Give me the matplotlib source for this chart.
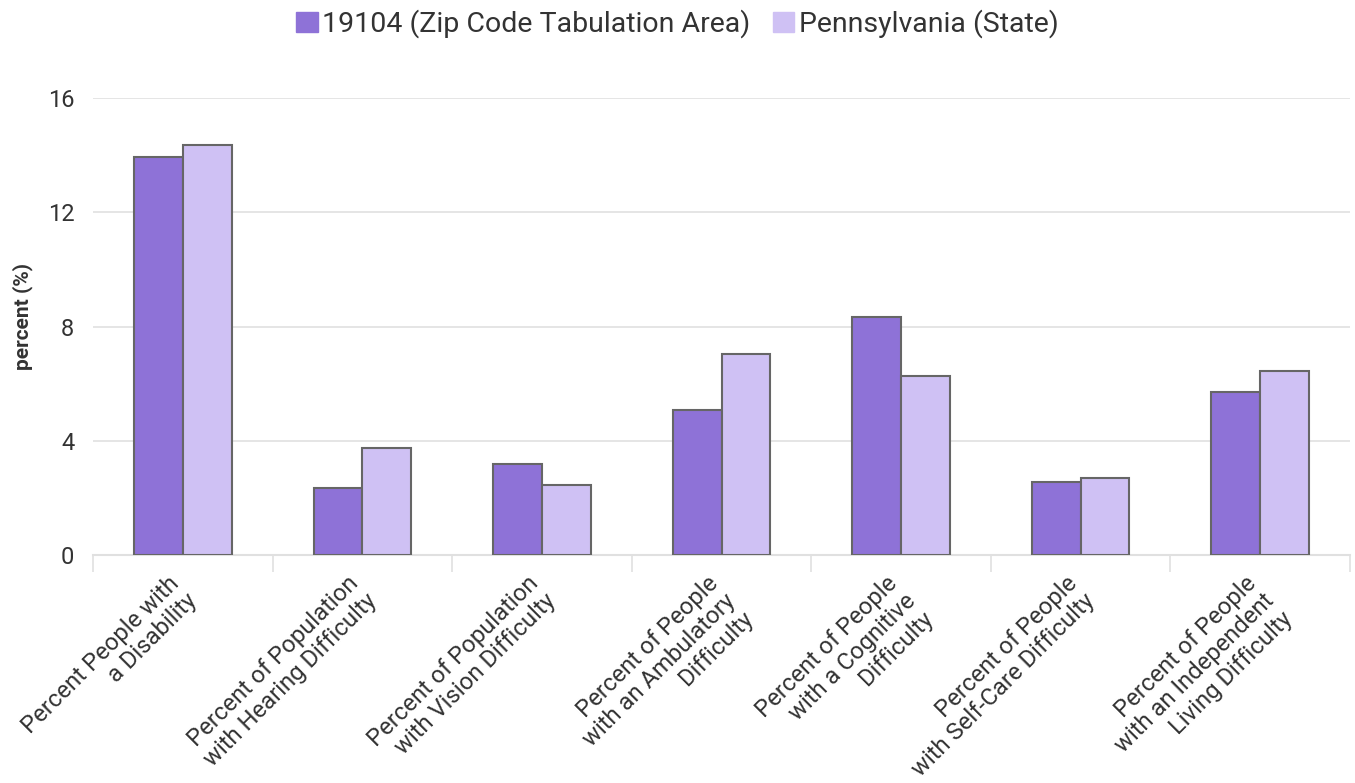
import matplotlib
matplotlib.use("Agg")
import matplotlib.pyplot as plt
from matplotlib.patches import Patch
import numpy as np

plt.rcParams['font.family'] = ['Roboto', 'DejaVu Sans']

categories = [
    "Percent People with\na Disability",
    "Percent of Population\nwith Hearing Difficulty",
    "Percent of Population\nwith Vision Difficulty",
    "Percent of People\nwith an Ambulatory\nDifficulty",
    "Percent of People\nwith a Cognitive\nDifficulty",
    "Percent of People\nwith Self-Care Difficulty",
    "Percent of People\nwith an Independent\nLiving Difficulty",
]
series_names = ["19104 (Zip Code Tabulation Area)", "Pennsylvania (State)"]
zip_values = [13.95, 2.35, 3.2, 5.08, 8.35, 2.56, 5.72]
state_values = [14.35, 3.75, 2.45, 7.05, 6.27, 2.7, 6.45]
y_ticks = [0, 4, 8, 12, 16]

c1 = "#8E72D7"
c2 = "#CFC1F4"
edge = "#666666"
txt = "#333333"

fig = plt.figure(figsize=(13.55, 7.83), dpi=100)
ax = fig.add_axes([93/1355, 1-555/783, (1350-93)/1355, (555-98)/783])

x = np.arange(len(categories))
w = 0.272
ax.bar(x - w/2, zip_values, width=w, color=c1, edgecolor=edge, linewidth=1.5, zorder=3)
ax.bar(x + w/2, state_values, width=w, color=c2, edgecolor=edge, linewidth=1.5, zorder=3)

ax.set_xlim(-0.5, len(categories) - 0.5)
ax.set_ylim(0, 16)
ax.set_yticks(y_ticks)
ax.set_yticklabels([str(t) for t in y_ticks], fontsize=17, color=txt)
ax.yaxis.grid(True, color="#e0e0e0", linewidth=1.2, zorder=0)
ax.tick_params(axis='y', length=0, pad=13.5)
for s in ["top", "right", "left"]:
    ax.spines[s].set_visible(False)
ax.spines["bottom"].set_color("#e0e0e0")
ax.spines["bottom"].set_linewidth(1.5)

# category boundary ticks
ax.set_xticks(np.arange(-0.5, len(categories)), minor=False)
ax.set_xticklabels([])
ax.tick_params(axis='x', length=12, color="#e0e0e0", width=1.2)

for i, lab in enumerate(categories):
    ax.annotate(lab, xy=(i, 0), xycoords=('data', 'axes fraction'),
                xytext=(-11, -12), textcoords='offset points',
                rotation=45, rotation_mode='anchor', ha='right', va='top',
                multialignment='right', fontsize=17.2, color=txt, linespacing=1.12)

ax.set_ylabel("percent (%)", fontsize=15, fontweight='bold', color=txt)
ax.yaxis.set_label_coords(-0.048, 0.521)

handles = [Patch(facecolor=c1, edgecolor=c1, label=series_names[0]),
           Patch(facecolor=c2, edgecolor=c2, label=series_names[1])]
leg = fig.legend(handles=handles, loc='center', bbox_to_anchor=(0.5, 1-24/783), ncol=2,
                 frameon=False, fontsize=20.5, handlelength=0.75, handleheight=0.75,
                 handletextpad=0.15, columnspacing=0.8)
for t in leg.get_texts():
    t.set_color(txt)

fig.savefig("out.png", dpi=100)
